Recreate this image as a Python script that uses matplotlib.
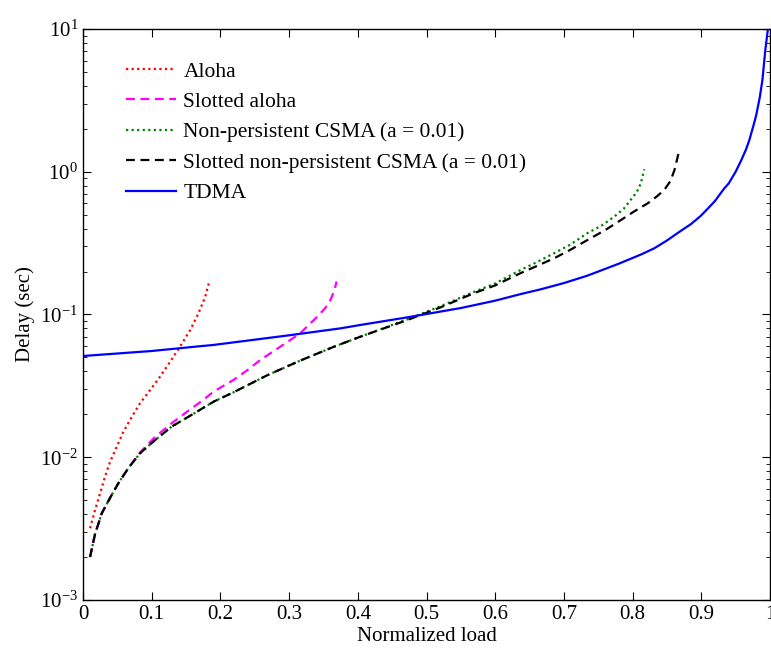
import numpy as np
import matplotlib
matplotlib.use("Agg")
import matplotlib.pyplot as plt
from matplotlib.ticker import LogLocator, NullFormatter

plt.rcParams["font.family"] = ["Liberation Serif", "DejaVu Serif"]
plt.rcParams["mathtext.fontset"] = "custom"
plt.rcParams["mathtext.rm"] = "Liberation Serif"
plt.rcParams["mathtext.it"] = "Liberation Serif:italic"

# values
aloha_x = [0.0102, 0.0175, 0.0248, 0.032, 0.0394, 0.0491, 0.0588, 0.071, 0.083,
           0.0977, 0.112, 0.127, 0.141, 0.156, 0.168, 0.178, 0.184]
aloha_y = [0.00318, 0.00427, 0.00558, 0.00731, 0.00931, 0.01186, 0.0151, 0.0192,
           0.0239, 0.0296, 0.0366, 0.0468, 0.0594, 0.0778, 0.1019, 0.1334, 0.172]

saloha_x = [0.0102, 0.0175, 0.0273, 0.0394, 0.0515, 0.066, 0.083, 0.105, 0.129,
            0.158, 0.175, 0.190, 0.219, 0.240, 0.258, 0.287, 0.316, 0.341,
            0.352, 0.360, 0.366, 0.369]
saloha_y = [0.0020, 0.0029, 0.00405, 0.0052, 0.00658, 0.0084, 0.0108, 0.0139,
            0.0173, 0.0220, 0.0252, 0.0288, 0.0348, 0.0410, 0.0480, 0.0594,
            0.0738, 0.0966, 0.110, 0.126, 0.148, 0.170]

csma_x = [0.0102, 0.0175, 0.0273, 0.0394, 0.0515, 0.066, 0.083, 0.105, 0.129,
          0.158, 0.190, 0.219, 0.268, 0.316, 0.365, 0.404, 0.472, 0.520, 0.569,
          0.600, 0.637, 0.660, 0.686, 0.710, 0.734, 0.755, 0.773, 0.787, 0.797,
          0.806, 0.812, 0.817]
csma_y = [0.0020, 0.0029, 0.00405, 0.0052, 0.00658, 0.0084, 0.01067, 0.0132,
          0.0164, 0.0198, 0.0245, 0.0285, 0.0375, 0.0475, 0.0594, 0.0700,
          0.0925, 0.114, 0.144, 0.165, 0.205, 0.232, 0.269, 0.310, 0.371, 0.420,
          0.484, 0.550, 0.634, 0.720, 0.830, 1.04]

scsma_x = [0.0102, 0.0175, 0.0273, 0.0394, 0.0515, 0.066, 0.083, 0.105, 0.129,
           0.158, 0.190, 0.219, 0.268, 0.316, 0.365, 0.404, 0.472, 0.520, 0.569,
           0.600, 0.637, 0.660, 0.686, 0.710, 0.734, 0.760, 0.783, 0.803, 0.822,
           0.835, 0.846, 0.855, 0.861, 0.868]
scsma_y = [0.0020, 0.0029, 0.00405, 0.0052, 0.00658, 0.0084, 0.01067, 0.0132,
           0.0164, 0.0198, 0.0245, 0.0285, 0.0375, 0.0475, 0.0594, 0.0700,
           0.0914, 0.112, 0.141, 0.160, 0.195, 0.218, 0.248, 0.285, 0.332, 0.390,
           0.459, 0.530, 0.601, 0.670, 0.745, 0.860, 1.03, 1.42]

tdma_x = [0.0, 0.1, 0.171, 0.19, 0.3, 0.375, 0.404, 0.472, 0.55, 0.6, 0.637,
          0.666, 0.7, 0.734, 0.75, 0.78, 0.812, 0.831, 0.85, 0.87, 0.885, 0.899,
          0.91, 0.92, 0.933, 0.94, 0.95, 0.958, 0.965, 0.97, 0.977, 0.98, 0.985,
          0.989, 0.993, 0.9975]
tdma_y = [0.0512, 0.0555, 0.0600, 0.0612, 0.0715, 0.080, 0.0845, 0.0955, 0.111,
          0.125, 0.139, 0.150, 0.166, 0.187, 0.200, 0.227, 0.263, 0.290, 0.330,
          0.385, 0.430, 0.490, 0.555, 0.625, 0.760, 0.830, 1.00, 1.20, 1.43,
          1.67, 2.20, 2.50, 3.30, 4.40, 7.00, 10.5]

labels = ["Aloha", "Slotted aloha", "Non-persistent CSMA (a = 0.01)",
          "Slotted non-persistent CSMA (a = 0.01)", "TDMA"]
xticks = [0, 0.1, 0.2, 0.3, 0.4, 0.5, 0.6, 0.7, 0.8, 0.9, 1]
xticklabels = ["0", "0.1", "0.2", "0.3", "0.4", "0.5", "0.6", "0.7", "0.8", "0.9", "1"]

fig = plt.figure(figsize=(7.71, 6.55), dpi=100)
ax = fig.add_axes([0.1077, 0.084, 0.891, 0.8717])

lw = 1.6
ax.plot(aloha_x, aloha_y, color="red", linestyle=(0, (1, 1.5)), lw=lw, label=labels[0])
ax.plot(saloha_x, saloha_y, color="magenta", linestyle=(0, (4, 2.5)), lw=lw, label=labels[1])
ax.plot(csma_x, csma_y, color="green", linestyle=(0, (1, 1.5)), lw=lw, label=labels[2])
ax.plot(scsma_x, scsma_y, color="black", linestyle=(0, (4, 2.5)), lw=lw, label=labels[3])
ax.plot(tdma_x, tdma_y, color="blue", linestyle="-", lw=lw, label=labels[4])

ax.set_yscale("log")
ax.set_xlim(0, 1)
ax.set_ylim(1e-3, 1e1)
ax.set_xticks(xticks)
ax.set_xticklabels(xticklabels)
ax.yaxis.set_major_locator(LogLocator(base=10, numticks=10))
ax.yaxis.set_minor_locator(LogLocator(base=10, subs=np.arange(2, 10), numticks=20))
ax.yaxis.set_minor_formatter(NullFormatter())

ax.tick_params(which="both", direction="in", top=True, right=True, labelsize=15)
ax.tick_params(which="major", length=6)
ax.tick_params(which="minor", length=3)
for s in ax.spines.values():
    s.set_linewidth(1.0)

ax.set_xlabel("Normalized load", fontsize=15, labelpad=2)
ax.set_ylabel("Delay (sec)", fontsize=15, labelpad=4)

ax.legend(loc="upper left", bbox_to_anchor=(0.034, 0.977), frameon=False,
          fontsize=15.5, handlelength=2.35, handletextpad=0.33, labelspacing=0.48)

fig.savefig("out.png", dpi=100)
